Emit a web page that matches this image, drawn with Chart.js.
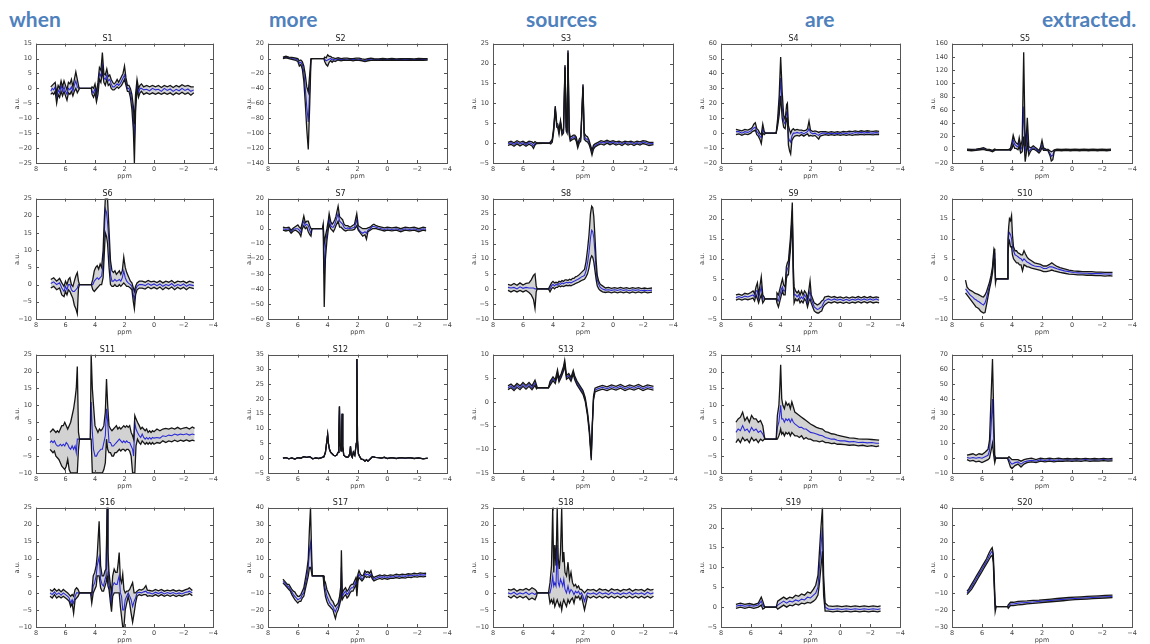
<!DOCTYPE html>
<html>
<head>
<meta charset="utf-8">
<script src="https://cdn.jsdelivr.net/npm/chart.js@4.4.0/dist/chart.umd.min.js"></script>
<style>
  body { margin: 0; width: 1150px; height: 644px; background: #fff; position: relative; overflow: hidden; }
  .word { position: absolute; top: 8px; font: bold 21px Lato, "Open Sans", sans-serif; line-height: 21px; color: #4f81bd; }
  canvas { position: absolute; }
</style>
</head>
<body>
<div class="word" style="left:9px">when</div>
<div class="word" style="left:269px">more</div>
<div class="word" style="left:526px">sources</div>
<div class="word" style="left:805px">are</div>
<div class="word" style="left:1042px">extracted.</div>

<script>
// each row: [ppm, lower bound, mean, upper bound]  (S12 has a single trace: [ppm, value])
const s1 = [[7.0,-2,-1,0.5],[6.9,-1.5,0,1],[6.8,-2,-0.5,1.5],[6.7,-1,0.5,2],[6.6,-5,-3,-1.5],[6.5,-2,-0.5,1],[6.4,-3,-1.5,0],[6.3,-1,1,2.5],[6.2,-2.5,-1,0.5],[6.1,-1,0.5,2.5],[6.0,-2.5,-1,1],[5.9,-4,-2,-0.5],[5.8,-1.5,0,2],[5.7,-2,-0.5,1.5],[5.6,-1,0.5,3],[5.5,-2.5,-1,0.5],[5.4,-1,1,3],[5.3,0,2.5,5.5],[5.2,-1.5,0.5,3],[5.1,-0.5,0,0.5],[5.05,0,0,0],[4.25,0,0,0],[4.2,-2,-1,0.5],[4.1,-3,-1.5,0],[4.0,-1.5,0,1.5],[3.9,-4.5,-3,-1.5],[3.8,-2,0,2],[3.7,3,5,7],[3.6,2,4,6],[3.5,6,8,12],[3.4,2,3.5,5],[3.3,1,3,4.5],[3.2,3,4.5,6.5],[3.1,1,2.5,4],[3.0,1.5,3,4.5],[2.9,0,1.5,3],[2.8,-0.5,0.5,2],[2.7,-0.5,0.5,1.5],[2.6,0,1,2],[2.5,0.5,1.5,3],[2.4,0,1,2],[2.3,0.5,1.5,3],[2.2,1,2.5,4],[2.1,2,3.5,5],[2.0,3,4.5,7.5],[1.9,1,2,3.5],[1.8,-1,0,1],[1.7,-1,0,1],[1.6,-3,-1.5,0],[1.5,-7,-4,-2],[1.4,-14,-10,-6],[1.33,-25,-18,-12],[1.25,-8,-5,-2],[1.15,0,1.5,3],[1.05,-3,-1.5,0],[0.95,-1.5,0,1],[0.85,-1,0,1.5],[0.7,-2,-0.5,0.5],[0.5,-1.5,-0.3,1],[0.3,-2,-0.8,0.5],[0.1,-1.5,0,1],[-0.1,-2,-0.5,0.5],[-0.3,-1.5,-0.3,1],[-0.5,-2,-1,0.3],[-0.7,-1.5,0,1],[-0.9,-2,-0.7,0.5],[-1.1,-1.5,-0.2,1],[-1.3,-2.2,-1,0.3],[-1.5,-1.5,-0.3,1],[-1.7,-2,-0.8,0.5],[-1.9,-1.3,0,1.2],[-2.1,-2,-0.7,0.7],[-2.3,-1.5,-0.2,1],[-2.5,-2.3,-1,0.5],[-2.7,-1.5,-0.5,0.5]];
const s2 = [[7.0,0,1,2],[6.8,1,2,3],[6.6,0,1,2],[6.4,-1,0,1.5],[6.2,-2,-0.5,1],[6.0,-4,-2,0],[5.9,-10,-6,-3],[5.8,-8,-5,-2],[5.7,-14,-8,-4],[5.6,-30,-18,-10],[5.5,-60,-40,-22],[5.4,-95,-65,-38],[5.3,-122,-85,-45],[5.2,-60,-40,-20],[5.12,-2,-1,0],[5.05,0,0,0],[4.25,0,0,0],[4.2,-4,-1,2],[4.1,-8,-3,1],[4.0,-10,-2,5],[3.9,-5,-1,3],[3.8,-3,0,3],[3.7,-5,-2,1],[3.6,-3,-1,1],[3.5,-4,-2,0],[3.3,-2,-1,1],[3.1,-3,-1.5,0],[2.9,-2,-1,0.5],[2.7,-2.5,-1,0.5],[2.5,-2,-1,0],[2.3,-3,-1.5,0],[2.1,-2,-1,0.5],[1.9,-2.5,-1,0.5],[1.7,-3,-2,-0.5],[1.5,-4,-2.5,-1],[1.3,-3,-1.5,0],[1.1,-2.5,-1,0.5],[0.9,-2,-1,0],[0.6,-2.5,-1.5,-0.5],[0.3,-2,-1,0],[0,-2.5,-1.5,-0.5],[-0.3,-2,-1,0],[-0.6,-2.5,-1.5,-0.5],[-0.9,-2,-1,0],[-1.2,-2.5,-1.2,0],[-1.5,-2,-1,0],[-1.8,-2.5,-1.5,-0.5],[-2.1,-2,-1,0],[-2.4,-2.5,-1.3,-0.3],[-2.7,-2,-1,0]];
const s3 = [[7.0,-0.6,-0.2,0.2],[6.8,-0.3,0.1,0.5],[6.6,-0.8,-0.3,0.1],[6.4,-0.2,0.2,0.6],[6.2,-0.7,-0.2,0.2],[6.0,-0.3,0.1,0.5],[5.8,-0.8,-0.4,0],[5.6,-0.3,0.1,0.5],[5.4,-0.7,-0.2,0.3],[5.3,-1.3,-0.7,0],[5.2,-0.5,-0.1,0.4],[5.1,-0.1,0,0.1],[4.25,0,0,0],[4.15,-0.2,0.1,0.4],[4.05,0.2,0.6,1],[3.95,3,3.5,4],[3.85,8.5,9,9.3],[3.75,4,4.5,5],[3.68,3.8,4.3,4.8],[3.6,2.2,2.7,3.2],[3.5,5,5.4,5.7],[3.4,2,2.5,3],[3.3,2.5,3,3.4],[3.2,19,19.3,19.6],[3.12,3,3.5,4],[3.06,2.5,3,3.5],[3.0,22.6,23,23.3],[2.92,2,2.5,3],[2.85,0.5,1,1.5],[2.75,0.8,1.2,1.7],[2.65,1,1.5,2],[2.55,1.2,1.6,2],[2.45,0.5,1,1.5],[2.35,-1.2,-0.7,-0.3],[2.25,0,0.5,1],[2.15,0.5,1,1.5],[2.0,14,14.5,14.8],[1.92,1,1.8,2.5],[1.8,0.5,1,1.8],[1.7,0.3,1,1.6],[1.6,-0.3,0.2,0.8],[1.5,-1.5,-1,-0.5],[1.4,-3,-2.4,-1.8],[1.3,-1.5,-1,-0.5],[1.2,-1,-0.6,-0.2],[1.0,-0.5,-0.2,0.2],[0.8,-0.2,0.2,0.6],[0.6,-0.5,0,0.4],[0.4,0,0.4,0.7],[0.2,-0.4,0,0.4],[0,-0.1,0.3,0.6],[-0.2,-0.5,-0.1,0.3],[-0.4,-0.2,0.2,0.5],[-0.6,-0.6,-0.2,0.2],[-0.8,-0.1,0.2,0.5],[-1.0,-0.5,-0.1,0.3],[-1.2,-0.2,0.2,0.5],[-1.4,-0.6,-0.2,0.2],[-1.6,-0.2,0.1,0.5],[-1.8,-0.5,-0.1,0.3],[-2.0,-0.1,0.3,0.6],[-2.2,-0.3,0.1,0.5],[-2.4,-0.6,-0.2,0.2],[-2.7,-0.4,-0.1,0.2]];
const s4 = [[7.0,-1,1,2.5],[6.8,-0.5,1,2],[6.6,-1.5,0,1.5],[6.4,-0.5,1,2.5],[6.2,-1,0.5,2],[6.0,0,1.5,3],[5.9,1,2.5,4],[5.8,1.5,3.5,6],[5.7,2,4,7],[5.6,-1,1,3],[5.5,-2,0,2],[5.4,-4,-2,0],[5.3,-7,-3,-1],[5.2,0,3,6],[5.1,-1,0,1],[5.0,0,0,0],[4.3,0,0,0],[4.2,5,7,10],[4.1,12,18,25],[4.0,25,37,51],[3.9,10,18,28],[3.8,4,8,12],[3.7,3,6,9],[3.6,10,14,19],[3.55,10,15,20],[3.48,-8,-3,5],[3.4,-12,-5,2],[3.33,-14,-6,0],[3.25,-5,-2,2],[3.15,-3,0,3],[3.05,-2,0,2],[2.9,-1.5,0.5,2.5],[2.75,-2,0,2],[2.6,-1,0.5,2],[2.45,-2,-0.5,1.5],[2.3,-1,0.5,2],[2.2,-0.5,1,3],[2.1,-2,3,8],[2.0,-1.5,0.5,2],[1.85,-2,-0.5,1],[1.7,-1.5,0,1.5],[1.55,-3,-1,1],[1.45,-4,-1.5,0.5],[1.35,-2,-0.5,1],[1.2,-1.5,0,1],[1.0,-1,0,1],[0.8,-1.5,-0.5,0.5],[0.6,-1,0,1],[0.4,-1.5,-0.5,0.5],[0.2,-1,0,1],[0,-1.5,-0.5,0.5],[-0.2,-1,0.2,1.2],[-0.4,-1.5,-0.3,0.8],[-0.6,-1,0.3,1.3],[-0.8,-1.5,-0.2,1],[-1.0,-1,0.4,1.5],[-1.2,-1.2,0,1],[-1.4,-0.8,0.5,1.6],[-1.6,-1.2,0,1.2],[-1.8,-0.8,0.5,1.6],[-2.0,-1,0.2,1.3],[-2.2,-1.2,0,1.2],[-2.4,-0.8,0.4,1.5],[-2.6,-1,0,1.2]];
const s5 = [[7.0,-1,0,1],[6.7,-1.5,-0.5,0.5],[6.4,-1,0,1],[6.1,0,1,2],[5.9,0.5,1.5,3],[5.7,-1,0,1],[5.5,-1.5,-0.5,0.5],[5.3,-3,-2,-1],[5.15,-1,0,1],[5.05,0,0,0],[4.25,0,0,0],[4.1,-1,0,2],[4.0,2,6,12],[3.92,8,15,22],[3.82,2,8,14],[3.72,2,6,10],[3.6,0,4,8],[3.52,5,12,18],[3.42,-5,0,5],[3.32,-3,5,15],[3.22,20,65,147],[3.12,-18,-2,5],[3.06,-8,5,15],[2.98,10,30,48],[2.88,-8,-3,5],[2.78,-3,0,3],[2.68,0,2,4],[2.58,1,3,6],[2.48,0,2,4],[2.35,-2,0,2],[2.2,-5,-3,-1],[2.1,-2,1,4],[2.0,3,8,14],[1.9,-1,1,3],[1.75,-1,0,1],[1.6,-1.5,-0.5,0.5],[1.45,-10,-6,-2],[1.38,-17,-10,-3],[1.28,-15,-8,-2],[1.18,-2,-1,0],[1.0,-1,0,1],[0.7,-1.5,-0.5,0.5],[0.4,-1,0,1],[0.1,-1.5,-0.5,0.5],[-0.2,-1,0,1],[-0.5,-1.5,-0.5,0.5],[-0.8,-1,0,1],[-1.1,-1.5,-0.5,0.5],[-1.4,-1,0,1],[-1.7,-1.5,-0.5,0.5],[-2.0,-1,0,1],[-2.3,-1.5,-0.5,0.5],[-2.6,-1,0,1]];
const s6 = [[7.0,-1,0.3,1.5],[6.8,-0.5,0.8,2],[6.6,-1.5,0,1],[6.4,-1,0.5,1.8],[6.25,-3,-1,0.5],[6.1,-3.5,-2,-0.5],[6.0,-2,-0.5,1],[5.9,-3,-1.5,0],[5.8,-1.5,0,1.5],[5.7,-2,0,2],[5.6,-3,-1.5,0],[5.5,-4,-2,-0.5],[5.4,-6,-2,1],[5.3,-7,-1.5,2.5],[5.2,-8.5,-1,3.5],[5.12,-1,0,1],[5.05,0,0,0],[4.25,0,0,0],[4.15,-1.5,0,1.5],[4.05,-2,1,4],[3.95,-1.5,1.5,5],[3.85,-1,2,5.5],[3.75,-0.5,1.5,4.5],[3.65,0,2,6],[3.55,0,2.5,5],[3.45,2,6,10],[3.38,8,14,18],[3.3,15,22,25],[3.22,14,21,25],[3.15,12,18,25],[3.05,5,12.6,16],[2.95,0,3,7],[2.85,-0.5,1,4],[2.75,-0.5,1,3.5],[2.65,0,1.5,4],[2.55,-0.5,1,3],[2.45,-0.5,1.2,3.5],[2.35,0,1.5,4],[2.25,-0.5,1,3],[2.15,0,2,4],[2.05,0.5,4,8],[1.95,0,2,5],[1.85,-0.5,1,3.5],[1.75,-0.5,0.5,2.5],[1.6,-1,0,1],[1.5,-1.5,-0.5,0.5],[1.4,-5,-3,-1],[1.33,-7,-4.5,-2],[1.25,-3,-1.5,-0.5],[1.15,-1.5,-0.5,0.5],[1.0,-1,0,1],[0.8,-1,0,1],[0.6,-1.3,-0.3,0.7],[0.4,-0.7,0.3,1.2],[0.2,-1.2,-0.2,0.8],[0,-0.8,0.2,1],[-0.2,-1.3,-0.3,0.6],[-0.4,-0.7,0.2,1.1],[-0.6,-1.5,-0.5,0.5],[-0.8,-0.8,0,1],[-1.0,-1.3,-0.3,0.7],[-1.2,-0.7,0.3,1.2],[-1.4,-1.5,-0.5,0.5],[-1.6,-0.8,0,1],[-1.8,-1.3,-0.3,0.8],[-2.0,-0.8,0.2,1],[-2.2,-1.5,-0.5,0.5],[-2.4,-0.8,0,1],[-2.7,-1.2,-0.3,0.6]];
const s7 = [[7.0,-1,0,1],[6.8,-1.5,-0.5,0.5],[6.6,-1,0,1],[6.45,-3,-2,-1],[6.3,-1.5,-0.5,0.5],[6.15,-1,0,1.5],[6.0,-2,0,2.5],[5.9,-3,-1,1],[5.8,-5,-2.5,0],[5.7,0,2,4],[5.6,2,5,8.5],[5.5,0,2,4],[5.4,1,3,5],[5.3,-2,2,5],[5.2,-4,-1,2],[5.12,-5,-3,0],[5.05,0,0,0],[4.35,0,0,0],[4.3,1,2,3],[4.23,-52,-30,-10],[4.15,-20,-12,-5],[4.05,-8,-3,0],[3.95,0,3,6],[3.9,3,7,10],[3.8,0,2,5],[3.7,-1,1,3],[3.62,-2,1,4],[3.52,0,3,6],[3.45,2,5,8],[3.3,5,10,15],[3.2,1,5,8],[3.1,1,4,7],[3.0,0,3,6],[2.9,-1,1,3],[2.8,-1.5,0,2],[2.65,-1,0.5,2],[2.5,-1,0,1],[2.35,-1,0.5,2],[2.2,-0.5,1,3],[2.05,2,6,10],[1.95,-1,0,2],[1.8,-3,-2,1],[1.65,-5,-3,0],[1.5,-4,-2,0],[1.4,-7,-3,0],[1.3,-2,-1,0.5],[1.15,-1,0,1],[1.0,0,1.5,2.5],[0.9,0,1.5,3],[0.75,0,1,2],[0.6,-0.5,0.5,1.5],[0.4,-1,0,1],[0.2,-1.5,-0.5,0.5],[0,-1,0,1],[-0.3,-1.5,-0.5,0.5],[-0.6,-1,0,1],[-0.9,-2,-1,0],[-1.2,-1,0,1],[-1.5,-1.5,-0.5,0.5],[-1.8,-1,0,1],[-2.1,-2,-1,0],[-2.4,-1,0,1],[-2.6,-1.5,-0.5,0.5]];
const s8 = [[7.0,-0.5,0.5,1.5],[6.8,-1,0.3,1.2],[6.6,-0.5,0.5,1.8],[6.4,-1,0,1.2],[6.2,-0.5,0.7,2],[6.0,-1,0.2,1.3],[5.8,-0.5,0.5,1.8],[5.6,-1.2,0.3,2],[5.45,-2,0.3,3],[5.3,-3.5,0.3,4.5],[5.2,-6.5,0,5],[5.12,-1,0,1],[5.05,0,0,0],[4.3,0,0,0],[4.2,-1,0,1],[4.1,0,1,2],[4.0,0.5,1.5,2.5],[3.9,0,1,2],[3.8,0.5,1.5,2.2],[3.7,0.5,1.3,2],[3.6,1,1.8,2.5],[3.5,0.7,1.5,2.3],[3.4,1,2,2.8],[3.3,0.8,1.7,2.5],[3.2,1,2,3],[3.1,1.2,2.2,3],[3.0,1,2,2.8],[2.9,1.2,2.2,3.2],[2.8,1,2,3],[2.7,1.3,2.3,3.5],[2.6,1.5,2.5,3.5],[2.5,1.8,2.8,4],[2.4,2,3,4.2],[2.3,2.2,3.3,4.5],[2.2,2.5,3.6,5],[2.1,2.8,4,5.5],[2.0,3,4.2,6],[1.9,3.2,4.5,6.5],[1.8,4,6,9],[1.7,5,8.5,13],[1.6,7,12,18],[1.5,10,17,25],[1.42,11,19.5,27.5],[1.35,10.5,19,27],[1.28,9,17,24],[1.2,6,12,17],[1.12,3,6,9],[1.05,1,3,4.5],[0.95,0,1.5,2.5],[0.85,-0.5,0.5,1.5],[0.7,-1,0,1],[0.5,-1.2,-0.4,0.3],[0.3,-1,-0.3,0.5],[0.1,-1.3,-0.5,0.2],[-0.1,-1,-0.3,0.4],[-0.3,-1.3,-0.5,0.2],[-0.5,-1,-0.2,0.5],[-0.7,-1.3,-0.5,0.2],[-0.9,-1,-0.3,0.4],[-1.1,-1.4,-0.6,0.1],[-1.3,-1,-0.3,0.4],[-1.5,-1.3,-0.5,0.2],[-1.7,-1,-0.3,0.4],[-1.9,-1.3,-0.6,0.1],[-2.1,-1,-0.4,0.3],[-2.3,-1.3,-0.6,0.1],[-2.6,-1.1,-0.4,0.3]];
const s9 = [[7.0,-0.3,0.3,1],[6.8,0,0.6,1.2],[6.6,-0.3,0.3,0.9],[6.4,0,0.7,1.4],[6.2,-0.2,0.5,1.2],[6.0,0,0.8,1.6],[5.85,0.2,1,2],[5.75,-0.5,0.5,1.3],[5.65,1,2,3],[5.56,0,2,4],[5.48,-1,0,1],[5.4,0,1.5,3],[5.3,1,3,5.5],[5.2,-1,0,1],[5.12,-0.5,0,0.5],[5.05,0,0,0],[4.3,0,0,0],[4.25,-1,0,1.5],[4.15,-2,-0.5,1],[4.05,-0.5,1,2.5],[3.95,1,2.5,4],[3.88,2,3,5],[3.8,1,2,3.5],[3.7,1,2,3],[3.62,5,6.5,8],[3.55,6,7.5,9],[3.48,6,8,9.5],[3.4,10,11.5,13],[3.35,12,13.5,15],[3.28,16,18,19.5],[3.22,20,22,24],[3.15,4,6,8],[3.1,-1,1,3],[3.0,0,1,2],[2.9,-0.5,0.5,1.5],[2.8,0,1,2],[2.7,-1,0,1],[2.6,-0.5,0.5,2],[2.5,-1,0,1],[2.4,0,1,2],[2.3,-0.5,0.5,1.5],[2.2,-2,-1,0],[2.1,-0.5,1,2.5],[2.03,0,2,4.5],[1.95,-1,0,1],[1.85,-2,-1,0],[1.75,-3,-2,-1],[1.65,-3.3,-2.3,-1.2],[1.55,-3.5,-2.6,-1.5],[1.45,-3.5,-2.5,-1.3],[1.35,-3.2,-2.2,-1],[1.25,-3,-2,-0.5],[1.15,-2,-1.2,-0.3],[1.05,-1.5,-0.5,0.5],[0.95,-1.2,-0.3,0.6],[0.8,-0.8,0,0.7],[0.6,-1,-0.3,0.4],[0.4,-0.7,0,0.6],[0.2,-1,-0.3,0.3],[0,-0.8,-0.1,0.5],[-0.2,-1.1,-0.4,0.2],[-0.4,-0.8,-0.1,0.5],[-0.6,-1.1,-0.4,0.2],[-0.8,-0.8,-0.1,0.5],[-1.0,-1,-0.3,0.3],[-1.2,-0.7,0,0.6],[-1.4,-1,-0.3,0.3],[-1.6,-0.7,0,0.6],[-1.8,-1,-0.3,0.3],[-2.0,-0.7,0,0.6],[-2.2,-1,-0.3,0.3],[-2.4,-0.8,0,0.5],[-2.6,-1,-0.3,0.3]];
const s10 = [[7.1,-3.5,-2.5,-0.3],[7.0,-4,-3,-2],[6.9,-4.5,-3.5,-2.5],[6.8,-5,-4,-2.8],[6.7,-5.5,-4.3,-3],[6.6,-6,-4.6,-3.2],[6.5,-6.5,-5,-3.5],[6.4,-7,-5.2,-3.7],[6.3,-7.2,-5.5,-3.8],[6.2,-7.5,-5.7,-4],[6.1,-8,-6,-4.2],[6.0,-8.3,-6.3,-4.4],[5.9,-8.5,-6.5,-4.5],[5.8,-8.4,-6,-4],[5.7,-6.5,-4.8,-3.2],[5.6,-4.5,-3.2,-2],[5.5,-2.5,-1.7,-0.8],[5.4,-0.8,0,0.8],[5.3,1.5,2.3,3],[5.25,3.5,4.5,5.5],[5.2,5,6.5,7.5],[5.15,4,5.5,7],[5.1,-1,-0.5,0],[5.05,0,0,0],[4.32,0,0,0],[4.27,6,8,10],[4.22,9,11,13],[4.17,9.5,11.5,15],[4.1,8,11,14.5],[4.03,8,10,15.8],[3.97,6,8,11],[3.9,5,7,8],[3.8,4.5,6,7],[3.7,4,5.8,7],[3.6,4,5.5,6.5],[3.5,3.5,5.2,6.3],[3.4,3.5,5,6],[3.3,2,4.5,6],[3.2,3.5,5,7],[3.1,3.3,4.6,6.2],[3.0,3,4.2,5.5],[2.9,3,4,5],[2.7,2.7,3.5,4.5],[2.5,2.5,3.2,4],[2.3,2.3,3.1,3.8],[2.1,2.1,3,3.6],[1.9,1.8,2.6,3.2],[1.7,1.8,2.6,3.2],[1.5,2,3,3.6],[1.35,2.2,3,4],[1.2,2,2.8,3.6],[1.0,1.8,2.5,3.1],[0.8,1.6,2.3,2.8],[0.5,1.4,2,2.5],[0.2,1.2,1.8,2.2],[-0.1,1.1,1.6,2],[-0.4,1,1.5,1.9],[-0.7,1,1.4,1.8],[-1.0,0.9,1.4,1.8],[-1.3,0.9,1.3,1.8],[-1.6,0.8,1.3,1.7],[-1.9,0.8,1.3,1.7],[-2.2,0.7,1.2,1.6],[-2.5,0.8,1.2,1.6],[-2.7,0.7,1.2,1.6]];
const s11 = [[7.05,-3,-1,2],[6.95,-3.5,-0.5,2.5],[6.85,-4,-1,3],[6.75,-3.5,-0.5,2.5],[6.65,-5,-1.5,2],[6.55,-5.5,-2,2.5],[6.45,-6,-2,2],[6.35,-7,-1.5,3],[6.25,-8,-2,4],[6.15,-8.5,-1.5,4],[6.05,-9,-2,5],[5.95,-8,-1,4],[5.85,-6,-1.5,3],[5.75,-9,-2.5,4],[5.65,-10,-3,5],[5.55,-10,-2,7],[5.45,-10,-3,9],[5.35,-10,-2,12],[5.27,-10,-4,15],[5.2,-10,0,21.5],[5.12,-3,0,2],[5.05,0,0,0],[4.32,0,0,0],[4.26,0,11,25],[4.18,-10,2,15],[4.1,-10,-3,10],[4.0,-10,-5,4],[3.9,-10,-5,3],[3.8,-10,-4,2],[3.7,-10,-3.5,3],[3.6,-10,-3,2.5],[3.5,-10,-3,3],[3.4,-9,-1,4],[3.3,-7,1,8],[3.22,0,9,17.8],[3.14,-3,5,10],[3.05,-4,-1,4],[2.95,-4,-1,3],[2.85,-5,-2,2.5],[2.75,-5,-2,3],[2.65,-4,-1.5,3.5],[2.55,-4,-1,4],[2.45,-3.5,-0.5,3],[2.35,-3,0,3.5],[2.25,-3.5,-0.5,3],[2.15,-3,-1,3.5],[2.05,-3,-0.5,4],[1.95,-3.5,-1,3.5],[1.85,-3,-0.5,4],[1.75,-3,-1,3.5],[1.65,-3.5,-1,4],[1.55,-5,-2,2],[1.45,-10,-3,1],[1.38,-10,-5,0],[1.3,-10,5,7],[1.22,-2,3,6],[1.12,0,2,5],[1.0,-1,1,4],[0.9,-1.5,0.5,3],[0.8,-0.5,1.5,3.5],[0.7,-1,0.5,3],[0.6,-1.5,0,2.5],[0.5,-1,0.5,3],[0.4,-1.5,0,2],[0.3,-1,0.5,2.5],[0.2,-1.5,0,2],[0.1,-1,0.5,2.5],[0,-1.5,0.3,2.2],[-0.2,-1,0.5,3],[-0.4,-1.2,0.3,2.5],[-0.6,-0.5,1,3],[-0.8,-1,0.8,3.2],[-1.0,-0.5,1.2,3],[-1.2,-0.8,1,3.3],[-1.4,-0.3,1.5,3],[-1.6,-0.7,1.2,3.5],[-1.8,-0.3,1.5,3],[-2.0,-0.6,1.3,3.3],[-2.2,-0.2,1.6,3.5],[-2.4,-0.6,1.2,3],[-2.6,-0.3,1.5,3.6],[-2.75,-0.5,1.3,3.2]];
const s12 = [[7.0,0],[6.8,0.2],[6.6,-0.2],[6.4,0.1],[6.2,-0.3],[6.0,0.2],[5.8,0],[5.6,0.5],[5.4,0.3],[5.2,0.5],[5.0,-0.2],[4.8,0.1],[4.6,-0.1],[4.4,0.2],[4.25,0.5],[4.15,2],[4.05,6],[4.0,8],[3.95,5],[3.88,3],[3.8,2],[3.7,1.5],[3.6,1],[3.5,0.8],[3.4,1],[3.3,2],[3.25,8],[3.21,17.5],[3.17,5],[3.1,2.5],[3.06,7],[3.03,15],[2.99,4],[2.92,1],[2.8,0.5],[2.7,0.3],[2.6,0.5],[2.52,1.5],[2.47,4],[2.42,1],[2.35,0.3],[2.28,2],[2.18,1],[2.08,5],[2.04,33.5],[2.0,6],[1.94,1.5],[1.85,0.5],[1.75,-0.3],[1.6,-0.5],[1.5,-1],[1.4,-0.5],[1.3,-1],[1.2,-0.5],[1.1,0],[1.0,0.5],[0.8,0.3],[0.6,0.2],[0.4,0],[0.2,0.3],[0,-0.1],[-0.3,0.2],[-0.6,-0.1],[-0.9,0.2],[-1.2,0],[-1.5,0.2],[-1.8,-0.1],[-2.1,0.1],[-2.4,-0.2],[-2.7,0]];
const s13 = [[7.0,2.6,3,3.4],[6.8,3,3.4,3.8],[6.6,2.4,2.8,3.2],[6.4,3.1,3.5,3.9],[6.2,2.6,3,3.4],[6.0,3.3,3.7,4.1],[5.8,2.7,3.1,3.5],[5.6,3.3,3.7,4.1],[5.4,2.6,3,3.4],[5.2,3.5,4,4.6],[5.1,2.8,3.2,3.6],[5.05,3,3,3],[4.3,3,3,3],[4.2,3.5,3.9,4.3],[4.0,4.5,4.9,5.3],[3.85,3.9,4.3,4.7],[3.7,5.8,6.3,6.8],[3.6,4.2,4.6,5],[3.45,5.2,5.6,6],[3.3,6.5,7,7.5],[3.22,7.8,8.3,8.8],[3.1,4.8,5.2,5.6],[2.95,5.2,5.6,6],[2.8,4.4,4.8,5.2],[2.65,5.9,6.3,6.7],[2.55,4.7,5.1,5.5],[2.4,3.6,4,4.4],[2.2,2.6,3,3.4],[2.0,1.6,2,2.4],[1.85,0.1,0.5,0.9],[1.7,-2.9,-2.5,-2.1],[1.58,-6.5,-6,-5.5],[1.45,-12.3,-11.8,-11.3],[1.38,-5.4,-5,-4.6],[1.3,0.4,0.8,1.2],[1.2,2.1,2.5,2.9],[1.0,2.4,2.8,3.2],[0.7,2.7,3.1,3.5],[0.4,2.4,2.8,3.2],[0.1,2.8,3.2,3.6],[-0.2,2.5,2.9,3.3],[-0.5,2.9,3.3,3.7],[-0.8,2.4,2.8,3.2],[-1.1,2.8,3.2,3.6],[-1.4,2.5,2.9,3.3],[-1.7,2.9,3.3,3.7],[-2.0,2.4,2.8,3.2],[-2.3,2.8,3.2,3.6],[-2.7,2.5,2.9,3.3]];
const s14 = [[7.0,-1,2,5],[6.85,0,3,6],[6.7,-1,2.5,6.5],[6.55,0.5,4,8],[6.4,-0.5,2.5,5.5],[6.25,0,3,6.5],[6.1,-1,2,5],[5.95,0.5,3.5,7],[5.8,-0.5,2.5,6],[5.65,0,3,6],[5.5,-1,2,5],[5.35,0,2.5,5.5],[5.2,-0.5,1.5,4],[5.1,0,0.5,1],[5.05,0,0,0],[4.3,0,0,0],[4.22,0,3.5,7],[4.12,1,5,10],[4.05,2,8,16],[4.0,3,10,22],[3.93,1.5,6,12],[3.85,2,6,10],[3.75,1,5,9],[3.65,2,6,11],[3.55,1.5,5.5,10],[3.45,2,6,10.5],[3.35,1,5,9],[3.25,2,6,11],[3.15,1.5,5,9.5],[3.05,1,4.5,8],[2.9,1,4,7.5],[2.75,0.5,3.5,7],[2.6,1,3.5,6.5],[2.45,0,3,6],[2.3,0.5,3,5.5],[2.15,0,2.5,5],[2.0,0,2,4.5],[1.8,-0.5,1.8,4],[1.6,-0.5,1.5,3.5],[1.4,-0.8,1.2,3.2],[1.2,-0.5,1,3],[1.0,-1,0.5,2.2],[0.8,-1,0.3,2],[0.6,-1.3,0,1.6],[0.4,-1.2,0,1.5],[0.2,-1.5,-0.3,1.2],[0,-1.5,-0.5,1],[-0.3,-1.6,-0.5,0.7],[-0.6,-1.8,-0.8,0.4],[-0.9,-1.7,-0.7,0.3],[-1.2,-2,-1,0.1],[-1.5,-1.8,-0.9,0],[-1.8,-2.1,-1.1,0],[-2.1,-1.9,-1,-0.1],[-2.4,-2.2,-1.2,-0.2],[-2.6,-2,-1.2,-0.3]];
const s15 = [[7.0,-1,0.5,2],[6.8,-2,0,2.5],[6.6,-1.5,0.5,3],[6.4,-2.5,0,2],[6.2,-2,0.5,3],[6.0,-3,0,2.5],[5.8,-2,1,4],[5.6,-1,2,6],[5.5,0,5,12],[5.4,5,20,40],[5.3,10,40,67],[5.22,2,15,30],[5.15,-3,-1,2],[5.08,0,0,0],[4.3,0,0,0],[4.2,-3,-1,1],[4.1,-6,-3,0],[4.0,-7,-4,-1],[3.8,-5,-3,-1],[3.6,-4,-2.5,-1],[3.4,-6,-4,-2],[3.2,-4,-2.5,-1],[3.0,-3,-2,-0.5],[2.7,-2.5,-1.5,0],[2.4,-3,-2,-1],[2.1,-2,-1,0],[1.8,-2.5,-1.5,-0.5],[1.5,-2,-1,0],[1.2,-2.5,-1.5,-0.5],[0.9,-2,-1,0],[0.6,-2.2,-1.3,-0.4],[0.3,-1.8,-1,-0.2],[0,-2.2,-1.3,-0.5],[-0.3,-1.8,-1,-0.2],[-0.6,-2.1,-1.2,-0.4],[-0.9,-1.7,-0.9,-0.1],[-1.2,-2.1,-1.2,-0.4],[-1.5,-1.8,-1,-0.2],[-1.8,-2,-1.2,-0.4],[-2.1,-1.7,-0.9,-0.1],[-2.4,-2,-1.2,-0.4],[-2.7,-1.8,-1,-0.2]];
const s16 = [[7.05,-1,0,1],[6.9,-1.5,-0.5,0.5],[6.75,-0.5,0.3,1.2],[6.6,-1.5,-0.5,0.5],[6.45,-1,0,1],[6.3,-1.5,-0.7,0.3],[6.15,-1,0,1],[6.0,-1.5,-0.5,0.5],[5.85,-2,-1,0],[5.75,-2.5,-1.5,-0.5],[5.65,-4,-3,-1],[5.55,-3,-2,-0.5],[5.45,-6,-3,-1],[5.35,-2,-1,1],[5.25,-1.5,0,1.5],[5.15,-1,0,1],[5.05,0,0,0],[4.3,0,0,0],[4.22,-3,-1,0],[4.12,0,2,5],[4.02,1,3,6],[3.92,2,5,8],[3.85,5,8,11],[3.72,5,10.5,21],[3.62,1.5,4,8],[3.52,0.5,2.5,5],[3.42,0.5,2,5],[3.32,2,4,6.5],[3.25,3,5,7],[3.18,5,25,25],[3.12,2,8,12],[3.05,1,3,6],[2.95,-3,-1,2],[2.88,-5.5,-3,0],[2.8,-1,2,5],[2.7,0,3,7],[2.6,0,2.5,6],[2.5,0,2.5,6],[2.42,0,4,9],[2.36,0,5,11.8],[2.28,-4,0,4],[2.2,-7,-1,3],[2.12,-10,-5,5.5],[2.04,-10,-5,1],[1.95,-5,-2,0],[1.85,-3,-1,0.5],[1.75,-1,0,0.5],[1.65,-3,-1,1],[1.55,-6,-2,2],[1.45,-8.6,-4,3],[1.35,-6,-2.5,0],[1.25,-3,-1.5,0],[1.15,-1,0,0.5],[1.0,-0.5,0.2,1],[0.85,-0.8,0,0.8],[0.7,-0.5,0.3,1.2],[0.55,-0.5,0.5,2.1],[0.45,-1,0,0.8],[0.3,-0.8,0,0.7],[0.1,-1,-0.3,0.5],[-0.1,-0.5,0.2,1],[-0.3,-1,-0.2,0.6],[-0.5,-0.5,0.2,1],[-0.7,-1,-0.3,0.5],[-0.9,-0.6,0.1,0.8],[-1.1,-1,-0.2,0.6],[-1.3,-0.6,0.1,0.9],[-1.5,-1.1,-0.3,0.5],[-1.7,-0.7,0,0.8],[-1.9,-1,-0.3,0.5],[-2.1,-0.6,0.1,0.9],[-2.3,-0.5,0.3,1.2],[-2.4,-0.2,0.5,1.5],[-2.6,-0.8,0,0.7]];
const s17 = [[7.0,-4.3,-3.3,-2],[6.9,-5,-4,-3],[6.8,-6,-5,-4],[6.7,-7,-6,-5],[6.6,-8,-6.5,-5],[6.5,-9,-8,-6.5],[6.4,-11,-9.5,-8],[6.3,-12.5,-11,-9],[6.2,-14,-12,-9.5],[6.1,-15,-13,-11],[6.0,-16,-14,-12],[5.9,-15,-13.5,-12],[5.8,-15,-13,-11],[5.7,-13,-11,-9],[5.6,-12,-10,-7],[5.5,-8,-5,-2],[5.4,-4,-1,3],[5.3,0,5,10],[5.22,5,15,28],[5.15,5,19,40],[5.08,2,8,15],[5.03,0,0,0],[4.3,0,0,0],[4.25,-6,-4,-2],[4.15,-12,-8,-4],[4.05,-15,-12,-8],[3.95,-17,-14,-10],[3.85,-18,-16,-12],[3.75,-19,-17,-14],[3.65,-20,-18,-15],[3.55,-23,-20,-17],[3.48,-25,-21,-18],[3.4,-22,-19,-17],[3.3,-20,-18,-16],[3.2,-17,-15,-12],[3.12,-14,-10,-6],[3.08,-10,5,15],[3.02,-14,-12,-10],[2.9,-12,-10,-8],[2.8,-11,-9,-7],[2.7,-13,-11,-9],[2.6,-12,-10,-8],[2.5,-10,-8,-6],[2.4,-9,-7,-5],[2.3,-9,-7,-5],[2.2,-7,-5,-3],[2.1,-5,-3,-1],[2.04,-12,-8,-4],[1.97,-3,-1,1],[1.9,-1,1,3],[1.8,-2,-0.5,1],[1.7,-3,-2,0],[1.6,-2,-1,0.5],[1.5,0,1.5,3],[1.4,-1,0.5,2],[1.3,-0.5,1,2.5],[1.2,-1,0,1.5],[1.1,0,1,3],[1.0,-2,-1,0],[0.9,-3,-2,-1],[0.8,-2.5,-1.5,-0.5],[0.65,-2,-1,0],[0.5,-1.5,-0.5,0.5],[0.35,-2,-1,0],[0.2,-1.5,-0.5,0.5],[0,-2,-1,0],[-0.2,-1.5,-0.5,0.5],[-0.4,-1.5,-0.7,0.3],[-0.6,-1,0,1],[-0.8,-1.5,-0.5,0.5],[-1.0,-1,0,1],[-1.2,-1.3,-0.3,0.7],[-1.4,-0.8,0.2,1.2],[-1.6,-1,0,1],[-1.8,-0.5,0.5,1.5],[-2.0,-0.8,0.2,1.2],[-2.2,-0.3,0.7,1.7],[-2.4,-0.6,0.4,1.4],[-2.6,-0.3,0.7,1.5]];
const s18 = [[7.0,-1,0,1],[6.8,-1.5,-0.3,0.8],[6.6,-0.8,0.2,1.2],[6.4,-1.5,-0.5,0.5],[6.2,-1,0,1],[6.0,-1.5,-0.3,0.8],[5.8,-1,0.2,1.3],[5.6,-2,-0.5,0.8],[5.4,-1.5,0,1.5],[5.2,-2,-0.5,1],[5.1,-1,0,0.5],[5.05,0,0,0],[4.3,0,0,0],[4.2,-3,0,3],[4.1,-2,2,8],[4.02,-3,5,25],[3.95,-2,2,6],[3.88,-4,3,14],[3.8,-3,2,8],[3.72,-2,14,25],[3.65,-3,3,10],[3.58,-4,2,7],[3.5,-3,4,12],[3.42,-5,3,25],[3.35,-3,2,9],[3.28,-2,4,12],[3.2,-3,1,6],[3.1,-4,0,5],[3.0,-2,2,9],[2.9,-3,0,4],[2.8,-2,1,6],[2.7,-1.5,0.5,3],[2.6,-3,-0.5,2],[2.5,-1,0.5,2.5],[2.4,-1.5,0,1.5],[2.3,-1,0.5,2],[2.2,-2,-0.5,1],[2.1,-1,0,1],[2.0,-3,-1,0.5],[1.9,-5,-2.5,0],[1.8,-3,-1,0.5],[1.7,-1,0,1],[1.5,-1.5,-0.3,0.8],[1.3,-1,0,1],[1.1,-1.5,-0.5,0.5],[0.9,-1,0.2,1.2],[0.7,-1.5,-0.3,0.8],[0.5,-1,0,1],[0.3,-1.5,-0.5,0.5],[0.1,-1,0.2,1.2],[-0.1,-1.5,-0.3,0.8],[-0.3,-1,0,1],[-0.5,-1.5,-0.5,0.5],[-0.7,-1,0,1],[-0.9,-1.5,-0.3,0.8],[-1.1,-1,0.2,1.2],[-1.3,-1.5,-0.5,0.5],[-1.5,-1,0,1],[-1.7,-1.5,-0.3,0.8],[-1.9,-1,0,1],[-2.1,-1.5,-0.5,0.5],[-2.3,-1,0.2,1.2],[-2.5,-1.5,-0.3,0.8],[-2.7,-1,0,1]];
const s19 = [[7.0,-0.3,0.2,0.7],[6.7,0,0.5,1],[6.4,-0.3,0.2,0.7],[6.1,0,0.4,0.9],[5.8,-0.3,0.2,0.6],[5.5,0,0.5,1],[5.3,0.5,1.5,2.5],[5.2,-0.5,0.5,1.5],[5.1,-0.3,0,0.3],[5.05,0,0,0],[4.3,0,0,0],[4.2,-0.5,0.5,1.5],[4.0,0,1,2],[3.8,0.5,1.5,2.5],[3.6,0,1,2],[3.4,0.5,1.5,2.5],[3.2,0.3,1.3,2.3],[3.0,0.8,1.8,3],[2.8,0.5,1.5,2.7],[2.6,1,2,3.3],[2.4,0.8,1.8,3],[2.2,1.2,2.5,3.8],[2.0,1,2.3,3.5],[1.8,1.5,3,4.5],[1.65,2,3.5,5.5],[1.5,3,5,8],[1.4,6,10,14],[1.3,10,15,20],[1.2,14,20,25],[1.12,3,5,8],[1.02,-1,0,1],[0.8,-1,-0.5,0.3],[0.5,-1.2,-0.6,0.2],[0.2,-1,-0.4,0.3],[-0.1,-1.2,-0.6,0.1],[-0.4,-1,-0.4,0.3],[-0.7,-1.2,-0.6,0.1],[-1.0,-1,-0.4,0.3],[-1.3,-1.2,-0.6,0.1],[-1.6,-1,-0.4,0.3],[-1.9,-1.2,-0.6,0.1],[-2.2,-1,-0.4,0.3],[-2.5,-1.2,-0.6,0.1],[-2.7,-1,-0.4,0.3]];
const s20 = [[7.0,-11,-10,-9],[6.9,-10,-9,-8],[6.8,-9,-7.8,-6.5],[6.7,-8,-6.5,-5],[6.6,-6.5,-5,-3.5],[6.5,-5,-3.5,-2],[6.4,-3.5,-2,-0.5],[6.3,-2,-0.5,1],[6.2,-0.5,1,2.5],[6.1,1,2.5,4],[6.0,2.5,4,5.5],[5.9,4,5.5,7],[5.8,5.5,7,8.5],[5.7,7,8.5,10],[5.6,8.5,10,12],[5.5,10,12,14],[5.4,11.5,13.5,15.5],[5.32,12,14.5,16.5],[5.25,8,11,13],[5.18,-8,-5,-2],[5.12,-21,-19,-17],[5.05,-18,-18,-18],[4.3,-18,-18,-18],[4.25,-19,-18,-17],[4.1,-17.5,-16.5,-15.5],[3.9,-17.5,-16.5,-15.5],[3.6,-17,-16,-15],[3.3,-16.8,-15.8,-14.8],[3.0,-16.5,-15.6,-14.7],[2.6,-16.2,-15.3,-14.4],[2.2,-15.8,-15,-14.2],[1.8,-15.5,-14.7,-13.9],[1.4,-15.2,-14.4,-13.6],[1.0,-14.9,-14.1,-13.3],[0.6,-14.6,-13.8,-13],[0.2,-14.3,-13.5,-12.7],[-0.2,-14,-13.3,-12.5],[-0.6,-13.8,-13.1,-12.3],[-1.0,-13.6,-12.9,-12.1],[-1.4,-13.4,-12.7,-11.9],[-1.8,-13.2,-12.5,-11.7],[-2.2,-13,-12.3,-11.5],[-2.7,-12.8,-12.1,-11.3]];

const traces = [s1, s2, s3, s4, s5, s6, s7, s8, s9, s10, s11, s12, s13, s14, s15, s16, s17, s18, s19, s20];
const titles = ['S1','S2','S3','S4','S5','S6','S7','S8','S9','S10','S11','S12','S13','S14','S15','S16','S17','S18','S19','S20'];
const yMin  = [-25, -140, -5, -20, -20, -10, -60, -10, -5, -10, -10, -5, -15, -10, -10, -10, -30, -10, -5, -30];
const yMax  = [15, 20, 25, 60, 160, 25, 20, 30, 25, 20, 25, 35, 10, 25, 70, 25, 40, 25, 25, 40];
const yStep = [5, 20, 5, 10, 20, 5, 10, 5, 5, 5, 5, 5, 5, 5, 10, 5, 10, 5, 5, 10];
const ppmTicks = { min: -4, max: 8, step: 2 };

// plot-area boxes of the 5 x 4 grid
const colX = [[36, 213], [268, 447], [493, 673], [721, 900], [952, 1132]];
const rowY = [[44, 164], [199, 320], [355, 474], [508, 628]];
const YW = 34, XH = 24, TOP = 16.6, PADR = 8;

const fmt = v => (v < 0 ? '\u2212' + Math.abs(v) : String(v));

// matplotlib-style box with inward ticks on all four sides
const frame = {
  id: 'frame',
  afterDraw(chart) {
    const { ctx, chartArea: a, scales: { x, y } } = chart;
    ctx.save();
    ctx.strokeStyle = '#555';
    ctx.lineWidth = 1;
    ctx.strokeRect(Math.round(a.left) + 0.5, Math.round(a.top) + 0.5, Math.round(a.right - a.left), Math.round(a.bottom - a.top));
    ctx.beginPath();
    x.ticks.forEach(t => {
      const px = Math.round(x.getPixelForValue(t.value)) + 0.5;
      ctx.moveTo(px, a.bottom); ctx.lineTo(px, a.bottom - 3);
      ctx.moveTo(px, a.top); ctx.lineTo(px, a.top + 3);
    });
    y.ticks.forEach(t => {
      const py = Math.round(y.getPixelForValue(t.value)) + 0.5;
      ctx.moveTo(a.left, py); ctx.lineTo(a.left + 3, py);
      ctx.moveTo(a.right, py); ctx.lineTo(a.right - 3, py);
    });
    ctx.stroke();
    ctx.restore();
  }
};

const tickFont = { family: 'DejaVu Sans', size: 6.5 };

traces.forEach((rows, i) => {
  const [left, right] = colX[i % 5];
  const [top, bottom] = rowY[Math.floor(i / 5)];
  const cv = document.createElement('canvas');
  cv.width = right - left + YW + PADR;
  cv.height = bottom - top + TOP + XH;
  cv.style.left = (left - YW) + 'px';
  cv.style.top = (top - TOP) + 'px';
  document.body.appendChild(cv);

  const lo = rows.map(r => ({ x: r[0], y: r[1] }));
  const mid = rows.map(r => ({ x: r[0], y: r.length > 2 ? r[2] : r[1] }));
  const hi = rows.map(r => ({ x: r[0], y: r.length > 3 ? r[3] : r[1] }));
  const line = (data, color, order, width) => ({
    data, borderColor: color, borderWidth: width, pointRadius: 0, fill: false, order, tension: 0
  });

  new Chart(cv, {
    type: 'line',
    data: {
      datasets: [
        line(lo, '#161616', 1, 1.3),
        line(hi, '#161616', 1, 1.3),
        { data: hi, borderWidth: 0, pointRadius: 0, fill: 0, backgroundColor: '#d2d2d2', order: 5 },
        line(mid, '#2b2bd6', 2, 1.1)
      ]
    },
    options: {
      responsive: false,
      animation: false,
      events: [],
      layout: { padding: { right: PADR } },
      plugins: {
        legend: { display: false },
        tooltip: { enabled: false },
        title: {
          display: true, text: titles[i], color: '#222',
          font: { family: 'DejaVu Sans', size: 8, weight: 'normal' },
          padding: { top: 7, bottom: 0 }
        }
      },
      scales: {
        x: {
          type: 'linear', reverse: true,
          min: ppmTicks.min, max: ppmTicks.max,
          grid: { display: false, drawTicks: false }, border: { display: false },
          ticks: { stepSize: ppmTicks.step, font: tickFont, color: '#444', padding: 2, maxRotation: 0, callback: fmt },
          title: { display: true, text: 'ppm', color: '#444', font: { family: 'DejaVu Sans', size: 6.5 }, padding: { top: 0, bottom: 7 } },
          afterFit: s => { s.height = XH; }
        },
        y: {
          min: yMin[i], max: yMax[i],
          grid: { display: false, drawTicks: false }, border: { display: false },
          ticks: { stepSize: yStep[i], font: tickFont, color: '#444', padding: 4, callback: fmt },
          title: { display: true, text: 'a.u.', color: '#444', font: { family: 'DejaVu Sans', size: 6.5 }, padding: { top: 11, bottom: 0 } },
          afterFit: s => { s.width = YW; }
        }
      }
    },
    plugins: [frame]
  });
});
</script>
</body>
</html>
